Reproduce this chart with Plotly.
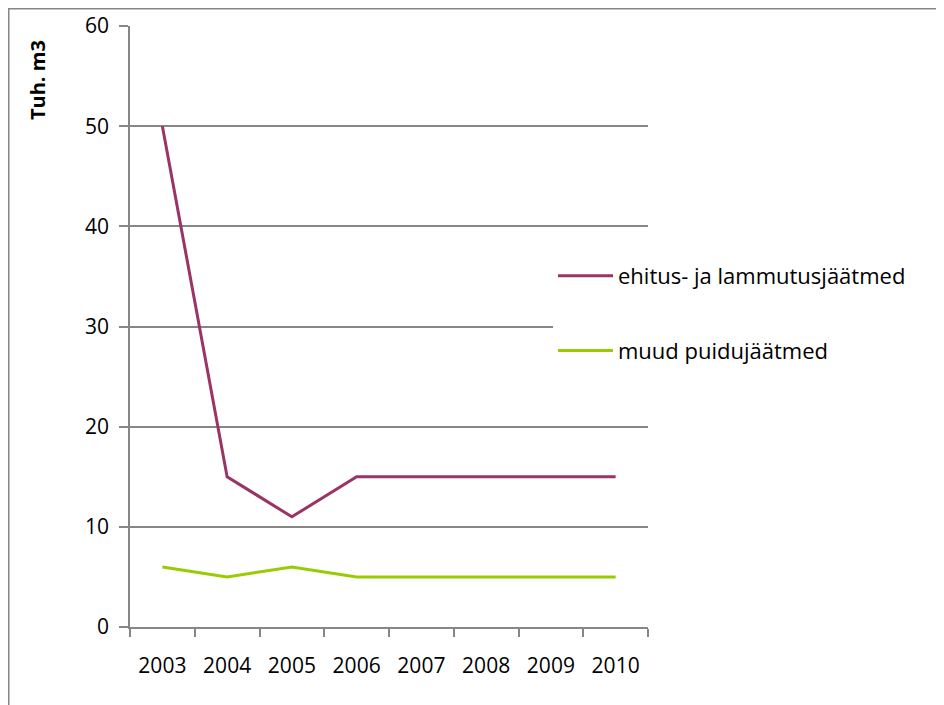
import plotly.graph_objects as go

years = ["2003", "2004", "2005", "2006", "2007", "2008", "2009", "2010"]
ehitus = [50, 15, 11, 15, 15, 15, 15, 15]
muud = [6, 5, 6, 5, 5, 5, 5, 5]
names = ["ehitus- ja lammutusjäätmed", "muud puidujäätmed"]
colors = ["#9B3466", "#99CC00"]

FONT = "Open Sans"
GRID = "#868686"

fig = go.Figure()
fig.add_trace(go.Scatter(x=years, y=ehitus, mode="lines", name=names[0],
                         line=dict(color=colors[0], width=3), legendgroup="a"))
fig.add_trace(go.Scatter(x=years, y=muud, mode="lines", name=names[1],
                         line=dict(color=colors[1], width=3), legendgroup="b"))

OFF = 8  # browser body margin
W, H = 944 - OFF, 705 - OFF
L, R, T, B = 130 - OFF, 296, 26 - OFF, 78
pw = W - L - R
ph = H - T - B


def px_x(p):
    return (p - OFF - L) / pw


def px_y(p):
    return (H - B - (p - OFF)) / ph


fig.update_layout(
    width=W, height=H,
    margin=dict(l=L, r=R, t=T, b=B, pad=0, autoexpand=False),
    paper_bgcolor="white", plot_bgcolor="white",
    font=dict(family=FONT, size=21, color="black"),
    showlegend=True,
    legend=dict(
        x=px_x(553), xanchor="left",
        y=px_y(255), yanchor="top",
        bgcolor="white", borderwidth=0,
        font=dict(family=FONT, size=22, color="black"),
        traceorder="grouped", tracegroupgap=43,
        itemwidth=55,
    ),
    xaxis=dict(
        type="category", range=[-0.5, 7.5], automargin=False,
        tickson="boundaries", ticks="outside", ticklen=8, tickwidth=1.5, tickcolor=GRID,
        showline=True, linecolor=GRID, linewidth=1.5,
        showgrid=False, zeroline=False,
        tickfont=dict(family=FONT, size=21),
        ticklabelstandoff=19,
    ),
    yaxis=dict(
        range=[0, 60], tickvals=[0, 10, 20, 30, 40, 50, 60], automargin=False,
        ticks="outside", ticklen=9, tickwidth=1.5, tickcolor=GRID,
        showline=True, linecolor=GRID, linewidth=1.5,
        showgrid=True, gridcolor=GRID, gridwidth=1.5,
        zeroline=False,
        tickfont=dict(family=FONT, size=21),
        ticklabelstandoff=6,
    ),
    annotations=[dict(
        text="<b>Tuh. m3</b>", textangle=-90,
        xref="paper", yref="paper",
        x=px_x(37), y=px_y(80),
        xanchor="center", yanchor="middle",
        showarrow=False, font=dict(family=FONT, size=20, color="black"),
    )],
    shapes=[dict(
        type="rect", xref="paper", yref="paper",
        x0=px_x(8.5), x1=px_x(980),
        y0=px_y(740), y1=px_y(8.5),
        line=dict(color=GRID, width=2), fillcolor="rgba(0,0,0,0)",
        layer="below",
    )],
)

fig.write_html("out.html")
